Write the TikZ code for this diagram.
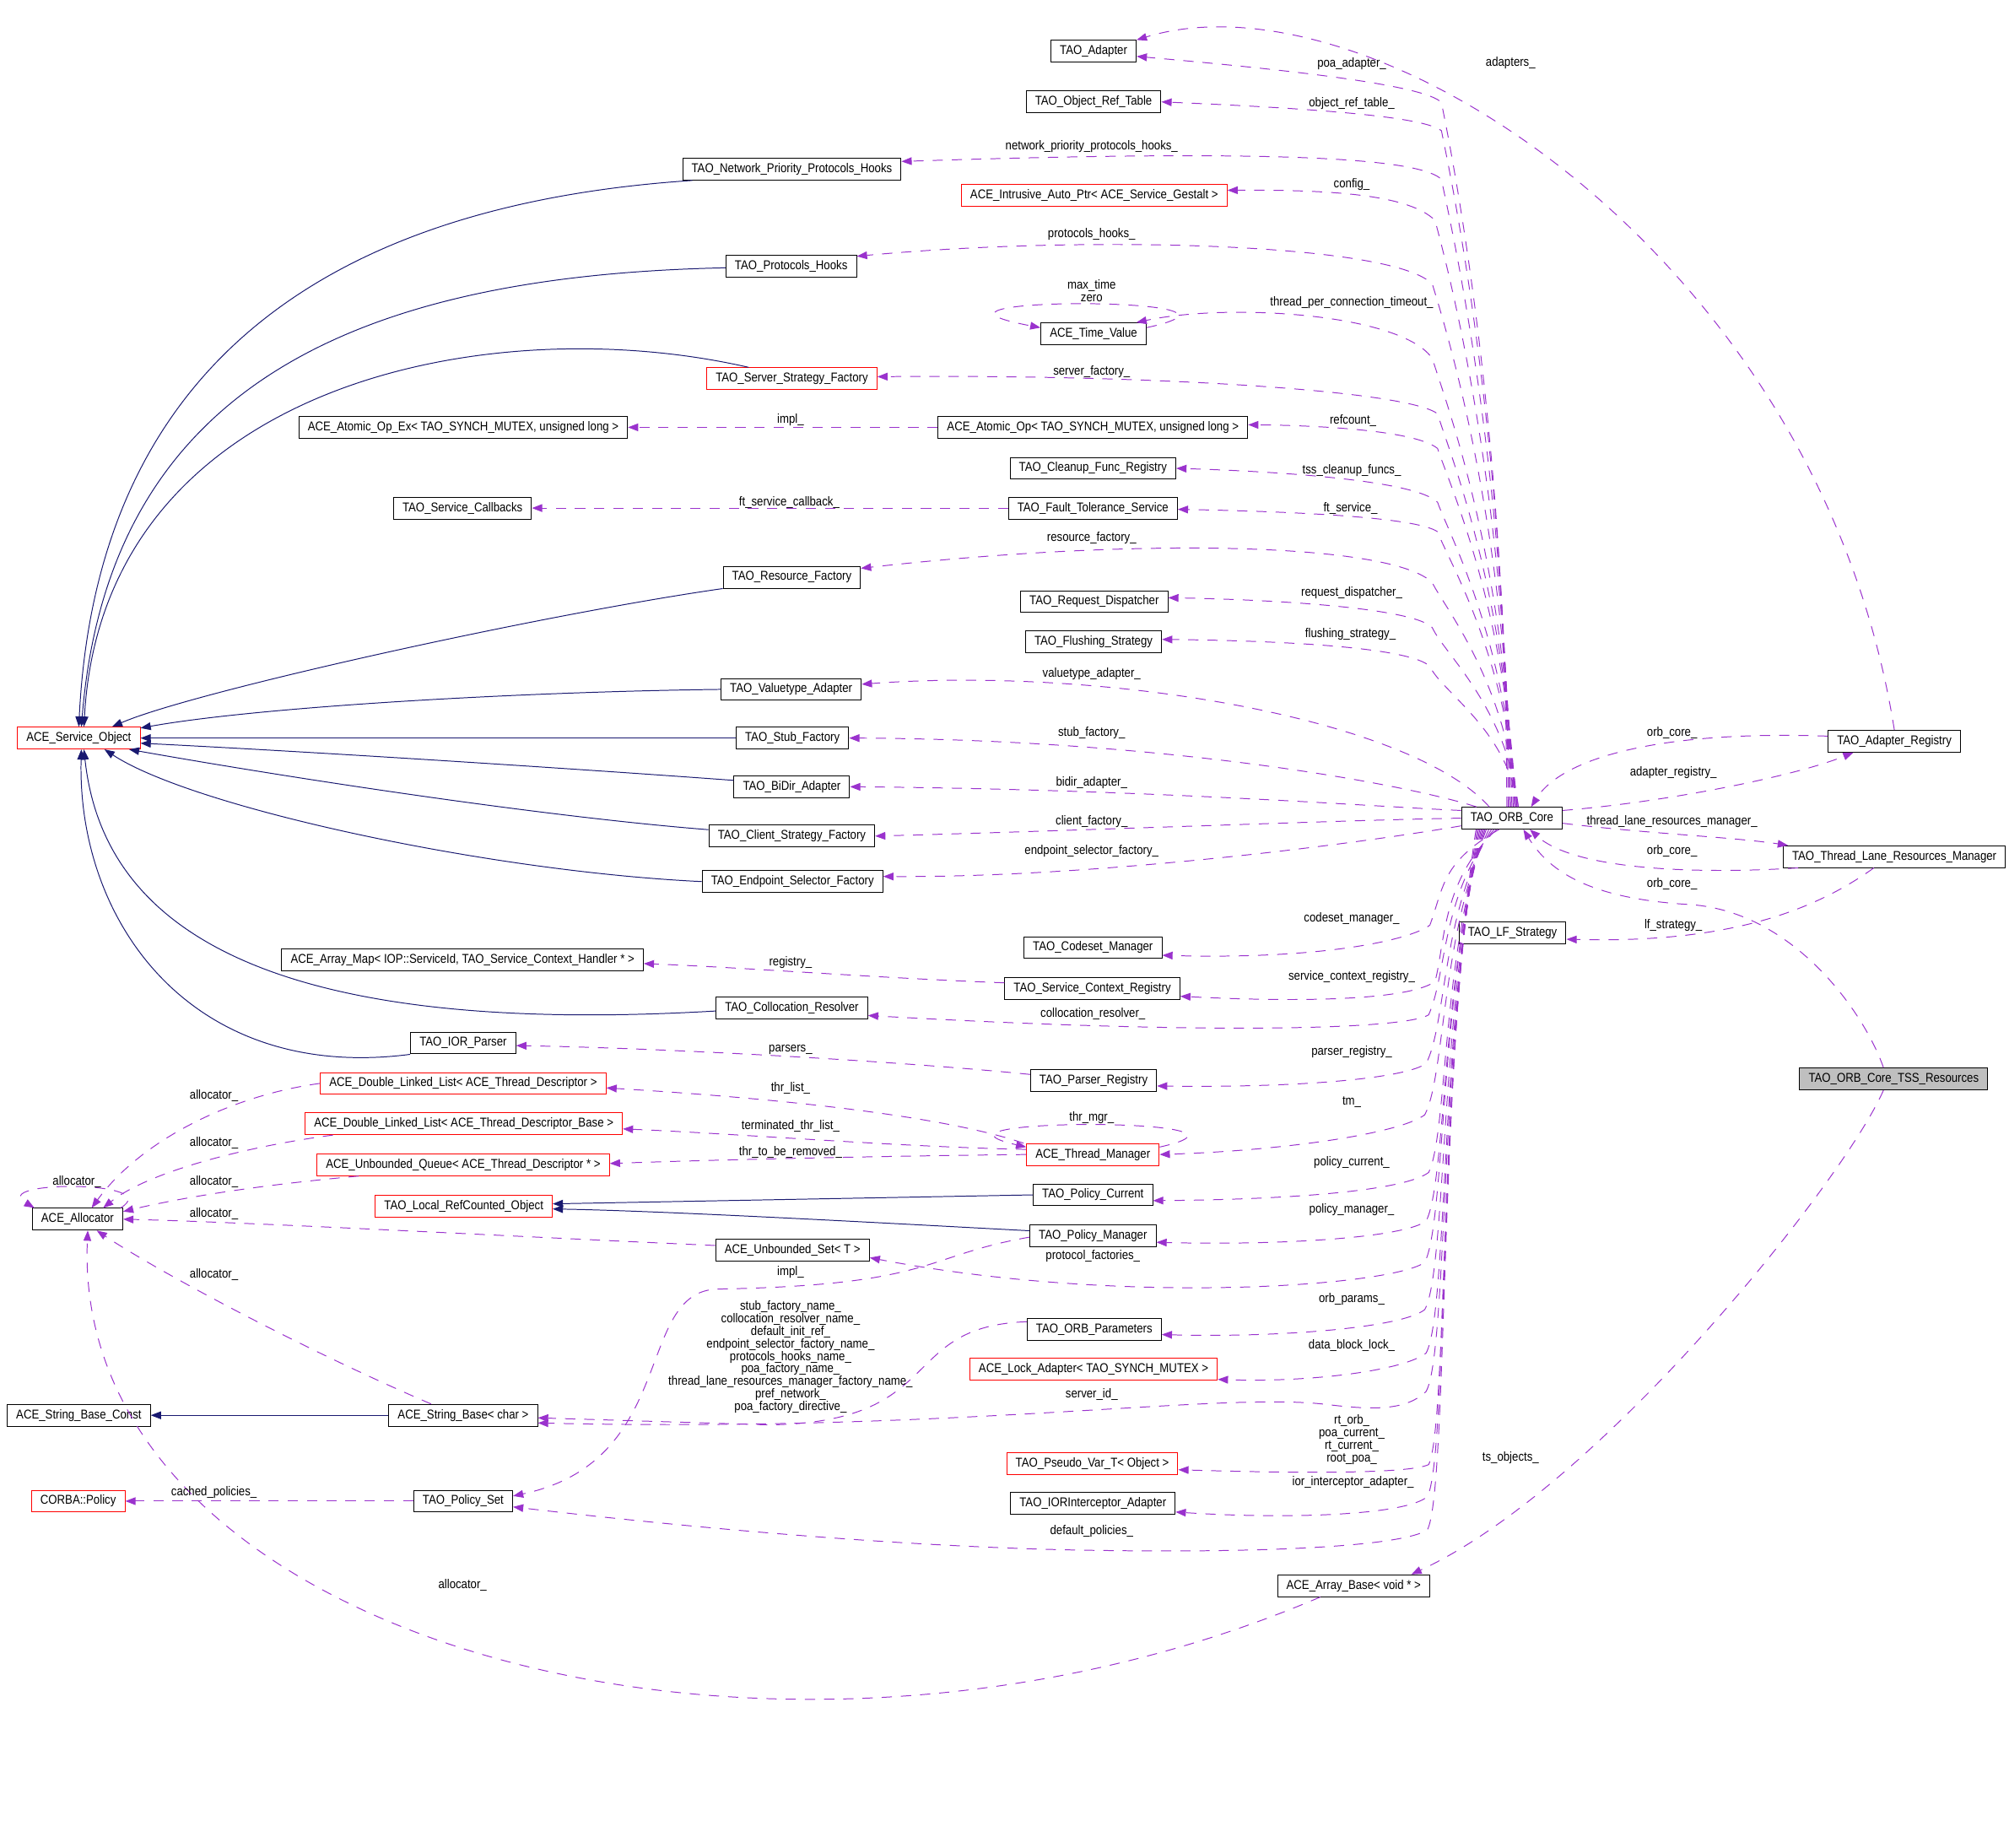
\documentclass[tikz,border=0pt]{standalone}
\usepackage{fontspec}
\setmainfont{Liberation Sans}[FakeStretch=0.87]
\usetikzlibrary{arrows.meta}
\definecolor{edgeblue}{RGB}{25,25,112}
\definecolor{edgepurple}{RGB}{154,50,205}
\definecolor{rootgray}{RGB}{191,191,191}

\begin{document}
\begin{tikzpicture}[x=1pt,y=1pt,
  classbox/.style={draw=black,line width=0.65pt,rectangle,minimum height=17pt,inner xsep=7pt,inner ysep=0pt,font=\fontsize{10}{9.75}\selectfont},
  redbox/.style={classbox,draw=red},
  rootbox/.style={classbox,fill=rootgray},
  inheritline/.style={draw=edgeblue,line width=0.65pt,-{Triangle[length=8pt,width=6pt]}},
  useline/.style={draw=edgepurple,line width=0.65pt,dash pattern=on 8pt off 7pt,-{Triangle[length=8pt,width=6pt]}},
  edgelabel/.style={inner sep=0pt,align=center,font=\fontsize{10}{9.75}\selectfont}]
\useasboundingbox (0,0) rectangle (1568,-1442);
%draw class boxes
\node[classbox] (adapter) at (853.5,-40) {TAO\_Adapter};
\node[classbox] (objreftable) at (853.5,-79.5) {TAO\_Object\_Ref\_Table};
\node[classbox] (netprio) at (618,-132) {TAO\_Network\_Priority\_Protocols\_Hooks};
\node[redbox] (autoptr) at (854,-152.5) {ACE\_Intrusive\_Auto\_Ptr< ACE\_Service\_Gestalt >};
\node[classbox] (protohooks) at (617.5,-208) {TAO\_Protocols\_Hooks};
\node[classbox] (timevalue) at (853.5,-260.5) {ACE\_Time\_Value};
\node[redbox] (serverfactory) at (618,-295.5) {TAO\_Server\_Strategy\_Factory};
\node[classbox] (atomicopex) at (361.5,-333.5) {ACE\_Atomic\_Op\_Ex< TAO\_SYNCH\_MUTEX, unsigned long >};
\node[classbox] (atomicop) at (853,-333.5) {ACE\_Atomic\_Op< TAO\_SYNCH\_MUTEX, unsigned long >};
\node[classbox] (cleanup) at (853,-365.5) {TAO\_Cleanup\_Func\_Registry};
\node[classbox] (callbacks) at (361,-396.5) {TAO\_Service\_Callbacks};
\node[classbox] (ftservice) at (853,-396.5) {TAO\_Fault\_Tolerance\_Service};
\node[classbox] (resfactory) at (618,-450.5) {TAO\_Resource\_Factory};
\node[classbox] (reqdispatch) at (854,-469.5) {TAO\_Request\_Dispatcher};
\node[classbox] (flushing) at (853.5,-501) {TAO\_Flushing\_Strategy};
\node[classbox] (valuetype) at (617.5,-538) {TAO\_Valuetype\_Adapter};
\node[redbox] (svcobject) at (61.5,-576) {ACE\_Service\_Object};
\node[classbox] (stubfactory) at (618.5,-576) {TAO\_Stub\_Factory};
\node[classbox] (bidir) at (618,-614) {TAO\_BiDir\_Adapter};
\node[classbox] (clientfactory) at (618,-652.5) {TAO\_Client\_Strategy\_Factory};
\node[classbox] (endpoint) at (618.5,-688) {TAO\_Endpoint\_Selector\_Factory};
\node[classbox] (orbcore) at (1180,-638.5) {TAO\_ORB\_Core};
\node[classbox] (adapterreg) at (1478.5,-578.5) {TAO\_Adapter\_Registry};
\node[classbox] (threadlane) at (1478.5,-668.5) {TAO\_Thread\_Lane\_Resources\_Manager};
\node[classbox] (lfstrategy) at (1180.5,-728) {TAO\_LF\_Strategy};
\node[rootbox] (tss) at (1478,-842) {TAO\_ORB\_Core\_TSS\_Resources};
\node[classbox] (codeset) at (853,-739.5) {TAO\_Codeset\_Manager};
\node[classbox] (arraymap) at (361,-749) {ACE\_Array\_Map< IOP::ServiceId, TAO\_Service\_Context\_Handler * >};
\node[classbox] (ctxregistry) at (852.5,-771.5) {TAO\_Service\_Context\_Registry};
\node[classbox] (collocation) at (618,-786.5) {TAO\_Collocation\_Resolver};
\node[classbox] (iorparser) at (361.5,-814) {TAO\_IOR\_Parser};
\node[classbox] (parserreg) at (853.5,-843.5) {TAO\_Parser\_Registry};
\node[redbox] (thrlist) at (361.5,-845.5) {ACE\_Double\_Linked\_List< ACE\_Thread\_Descriptor >};
\node[redbox] (thrlistbase) at (362,-877) {ACE\_Double\_Linked\_List< ACE\_Thread\_Descriptor\_Base >};
\node[redbox] (thrmanager) at (853,-901) {ACE\_Thread\_Manager};
\node[redbox] (thrqueue) at (361.5,-909) {ACE\_Unbounded\_Queue< ACE\_Thread\_Descriptor * >};
\node[redbox] (refcounted) at (362,-941.5) {TAO\_Local\_RefCounted\_Object};
\node[classbox] (policycurrent) at (853,-932.5) {TAO\_Policy\_Current};
\node[classbox] (allocator) at (60.5,-951.5) {ACE\_Allocator};
\node[classbox] (policymanager) at (853,-964.5) {TAO\_Policy\_Manager};
\node[classbox] (unboundedset) at (618.5,-975.5) {ACE\_Unbounded\_Set< T >};
\node[classbox] (orbparams) at (854,-1037.5) {TAO\_ORB\_Parameters};
\node[redbox] (lockadapter) at (853.5,-1068.5) {ACE\_Lock\_Adapter< TAO\_SYNCH\_MUTEX >};
\node[classbox] (stringconst) at (61.5,-1104.5) {ACE\_String\_Base\_Const};
\node[classbox] (stringbase) at (361.5,-1104.5) {ACE\_String\_Base< char >};
\node[redbox] (pseudovar) at (852.5,-1142) {TAO\_Pseudo\_Var\_T< Object >};
\node[redbox] (corbapolicy) at (61,-1171.5) {CORBA::Policy};
\node[classbox] (policyset) at (361.5,-1171.5) {TAO\_Policy\_Set};
\node[classbox] (iorinterceptor) at (853,-1173) {TAO\_IORInterceptor\_Adapter};
\node[classbox] (arraybase) at (1056.5,-1237.5) {ACE\_Array\_Base< void * >};
%draw inheritance arrows
\draw[inheritline] ([xshift=8pt]netprio.south west) .. controls (250,-160) and (75,-290) .. (svcobject.north);
\draw[inheritline] ([yshift=-1pt]protohooks.west) .. controls (280,-215) and (85,-300) .. ([xshift=2pt]svcobject.north);
\draw[inheritline] ([xshift=33pt]serverfactory.north west) .. controls (380,-240) and (80,-300) .. ([xshift=4pt]svcobject.north);
\draw[inheritline] (resfactory.south west) .. controls (420,-480) and (150,-540) .. ([xshift=26pt]svcobject.north);
\draw[inheritline] (valuetype.west) .. controls (400,-540) and (200,-552) .. ([yshift=-1pt]svcobject.north east);
\draw[inheritline] (stubfactory.west) -- (svcobject.east);
\draw[inheritline] ([yshift=5pt]bidir.west) .. controls (450,-600) and (250,-587) .. ([yshift=-4pt]svcobject.east);
\draw[inheritline] ([yshift=5pt]clientfactory.west) .. controls (420,-637) and (220,-606) .. ([xshift=-9pt]svcobject.south east);
\draw[inheritline] (endpoint.west) .. controls (380,-680) and (150,-630) .. ([xshift=20pt]svcobject.south);
\draw[inheritline] ([yshift=-2.5pt]collocation.west) .. controls (200,-810) and (80,-720) .. ([xshift=4pt]svcobject.south);
\draw[inheritline] (iorparser.south west) .. controls (150,-845) and (60,-720) .. ([xshift=2pt]svcobject.south);
\draw[inheritline] (policycurrent.west) -- ([yshift=2pt]refcounted.east);
\draw[inheritline] ([yshift=4pt]policymanager.west) .. controls (700,-955) and (520,-945) .. ([yshift=-2pt]refcounted.east);
\draw[inheritline] (stringbase.west) -- (stringconst.east);
%draw members of TAO_ORB_Core, upper bundle
\draw[useline] ([xshift=-4pt]orbcore.north) .. controls (1176,-327) and (1131,-110) .. (1125,-80) .. controls (1112,-66) and (1000,-54) .. ([yshift=-4pt]adapter.east);
\draw[useline] ([xshift=-3pt]orbcore.north) .. controls (1176,-339) and (1131,-132) .. (1125,-102) .. controls (1110,-90) and (1010,-84) .. (objreftable.east);
\draw[useline] ([xshift=-2pt]orbcore.north) .. controls (1176,-360) and (1131,-170) .. (1125,-140) .. controls (1105,-120) and (950,-118) .. ([yshift=6pt]netprio.east);
\draw[useline] ([xshift=-1pt]orbcore.north) .. controls (1176,-378) and (1128,-202) .. (1120,-172) .. controls (1100,-152) and (1040,-148) .. ([yshift=4pt]autoptr.east);
\draw[useline] (orbcore.north) .. controls (1176,-405) and (1127,-252) .. (1118,-222) .. controls (1090,-190) and (850,-183) .. ([yshift=8pt]protohooks.east);
\draw[useline] ([xshift=1pt]orbcore.north) .. controls (1176,-437) and (1127,-310) .. (1118,-280) .. controls (1095,-245) and (960,-236) .. ([xshift=-8pt]timevalue.north east);
\draw[useline] ([xshift=2pt]orbcore.north) .. controls (1176,-461) and (1130,-350) .. (1122,-323) .. controls (1100,-305) and (900,-292) .. ([yshift=1.5pt]serverfactory.east);
\draw[useline] ([xshift=3pt]orbcore.north) .. controls (1176,-475) and (1130,-375) .. (1122,-350) .. controls (1105,-336) and (1030,-332) .. ([yshift=2pt]atomicop.east);
\draw[useline] ([xshift=3pt]orbcore.north) .. controls (1176,-499) and (1130,-415) .. (1122,-392) .. controls (1105,-375) and (1000,-368) .. (cleanup.east);
\draw[useline] ([xshift=4pt]orbcore.north) .. controls (1176,-511) and (1130,-437) .. (1122,-415) .. controls (1105,-403) and (1000,-399) .. ([yshift=-1pt]ftservice.east);
\draw[useline] ([xshift=4pt]orbcore.north) .. controls (1176,-533) and (1128,-475) .. (1118,-455) .. controls (1090,-425) and (900,-418) .. ([yshift=7pt]resfactory.east);
\draw[useline] ([xshift=5pt]orbcore.north) .. controls (1176,-552) and (1127,-510) .. (1118,-490) .. controls (1105,-475) and (1000,-468) .. ([yshift=3pt]reqdispatch.east);
\draw[useline] ([xshift=5pt]orbcore.north) .. controls (1176,-569) and (1125,-540) .. (1116,-520) .. controls (1100,-505) and (1000,-500) .. ([yshift=2pt]flushing.east);
\draw[useline] ([xshift=22pt]orbcore.north west) .. controls (1100,-560) and (860,-520) .. ([yshift=4pt]valuetype.east);
\draw[useline] ([xshift=12pt]orbcore.north west) .. controls (1090,-610) and (900,-577) .. (stubfactory.east);
\draw[useline] ([yshift=6pt]orbcore.west) .. controls (1080,-630) and (900,-616) .. (bidir.east);
\draw[useline] (orbcore.west) .. controls (1050,-640) and (850,-648) .. (clientfactory.east);
\draw[useline] ([yshift=-6pt]orbcore.west) .. controls (1050,-660) and (850,-685) .. ([yshift=4pt]endpoint.east);
%draw right hand side
\draw[useline] (adapterreg.north) .. controls (1420,-200) and (1070,25) .. (adapter.north east);
\draw[useline] ([yshift=4pt]adapterreg.west) .. controls (1300,-570) and (1220,-590) .. ([xshift=15pt]orbcore.north);
\draw[useline] ([yshift=6pt]orbcore.east) .. controls (1300,-626) and (1400,-606) .. ([xshift=-32pt]adapterreg.south);
\draw[useline] ([yshift=-4pt]orbcore.east) .. controls (1290,-651) and (1350,-653) .. ([xshift=4pt]threadlane.north west);
\draw[useline] ([xshift=12pt]threadlane.south west) .. controls (1330,-682) and (1230,-680) .. ([xshift=14pt]orbcore.south);
\draw[useline] ([xshift=-8pt]tss.north) .. controls (1455,-790) and (1400,-712) .. (1320,-706) .. controls (1250,-702) and (1212,-685) .. ([xshift=9pt]orbcore.south);
\draw[useline] ([xshift=-16pt]threadlane.south) .. controls (1410,-715) and (1340,-736) .. ([yshift=-5pt]lfstrategy.east);
\draw[useline] ([xshift=-8pt]tss.south) .. controls (1440,-920) and (1250,-1160) .. ([xshift=45pt]arraybase.north);
%draw members of TAO_ORB_Core, lower bundle
\draw[useline] ([xshift=-10pt]orbcore.south) .. controls (1125,-673) and (1127,-692) .. (1116,-722) .. controls (1100,-734) and (1030,-749) .. ([yshift=-6pt]codeset.east);
\draw[useline] ([xshift=-12pt]orbcore.south) .. controls (1125,-688) and (1128,-736) .. (1120,-766) .. controls (1102,-779) and (1030,-783) .. ([yshift=-6pt]ctxregistry.east);
\draw[useline] ([xshift=-14pt]orbcore.south) .. controls (1125,-698) and (1129,-762) .. (1115,-792) .. controls (1098,-803) and (950,-808) .. ([yshift=-6pt]collocation.east);
\draw[useline] ([xshift=-16pt]orbcore.south) .. controls (1125,-711) and (1129,-800) .. (1113,-830) .. controls (1098,-841) and (1020,-849) .. ([yshift=-4pt]parserreg.east);
\draw[useline] ([xshift=-18pt]orbcore.south) .. controls (1125,-725) and (1128,-840) .. (1112,-870) .. controls (1092,-885) and (1000,-898) .. (thrmanager.east);
\draw[useline] ([xshift=-20pt]orbcore.south) .. controls (1125,-741) and (1130,-885) .. (1115,-915) .. controls (1098,-928) and (1020,-936) .. ([yshift=-4.5pt]policycurrent.east);
\draw[useline] ([xshift=-21pt]orbcore.south) .. controls (1125,-754) and (1129,-923) .. (1113,-953) .. controls (1095,-966) and (1000,-972) .. ([yshift=-5pt]policymanager.east);
\draw[useline] ([xshift=-22pt]orbcore.south) .. controls (1124,-765) and (1128,-955) .. (1112,-985) .. controls (1090,-1003) and (880,-1020) .. ([yshift=-6pt]unboundedset.east);
\draw[useline] ([xshift=-23pt]orbcore.south) .. controls (1124,-778) and (1129,-992) .. (1112,-1022) .. controls (1095,-1036) and (1000,-1044) .. ([yshift=-4pt]orbparams.east);
\draw[useline] ([xshift=-24pt]orbcore.south) .. controls (1124,-790) and (1130,-1026) .. (1113,-1056) .. controls (1095,-1070) and (1020,-1079) .. ([yshift=-8pt]lockadapter.east);
\draw[useline] ([xshift=-25pt]orbcore.south) .. controls (1124,-801) and (1130,-1056) .. (1113,-1086) .. controls (1098,-1100) and (1075,-1101) .. (1035,-1096) .. controls (950,-1086) and (750,-1118) .. ([yshift=-6pt]stringbase.east);
\draw[useline] ([xshift=-26pt]orbcore.south) .. controls (1123,-821) and (1130,-1113) .. (1115,-1143) .. controls (1100,-1150) and (1020,-1150) .. ([yshift=-5pt]pseudovar.east);
\draw[useline] ([xshift=-27pt]orbcore.south) .. controls (1123,-830) and (1130,-1138) .. (1114,-1168) .. controls (1098,-1182) and (1010,-1186) .. ([yshift=-7pt]iorinterceptor.east);
\draw[useline] ([xshift=-28pt]orbcore.south) .. controls (1123,-838) and (1130,-1164) .. (1114,-1194) .. controls (1095,-1206) and (1000,-1212) .. (860,-1210) .. controls (700,-1208) and (520,-1190) .. ([yshift=-4.5pt]policyset.east);
%draw other members
\draw[useline] (atomicop.west) -- (atomicopex.east);
\draw[useline] (ftservice.west) -- (callbacks.east);
\draw[useline] ([yshift=4.5pt]ctxregistry.west) .. controls (680,-763) and (580,-755) .. ([yshift=-3pt]arraymap.east);
\draw[useline] ([yshift=5pt]parserreg.west) .. controls (700,-828) and (520,-818) .. ([yshift=-2pt]iorparser.east);
\draw[useline] ([xshift=-2pt]thrmanager.north west) .. controls (740,-872) and (620,-858) .. ([yshift=-3.5pt]thrlist.east);
\draw[useline] ([yshift=4pt]thrmanager.west) .. controls (700,-895) and (580,-885) .. ([yshift=-4pt]thrlistbase.east);
\draw[useline] (thrmanager.west) .. controls (700,-902) and (560,-905) .. ([yshift=1pt]thrqueue.east);
\draw[useline] (policyset.west) -- (corbapolicy.east);
\draw[useline] ([yshift=-1pt]policymanager.west) .. controls (720,-980) and (730,-1003) .. (560,-1006) .. controls (495,-1008) and (530,-1140) .. ([yshift=4pt]policyset.east);
\draw[useline] ([yshift=6pt]orbparams.west) .. controls (700,-1035) and (740,-1110) .. (600,-1112) -- ([yshift=-2pt]stringbase.east);
% self loops
\draw[useline] ([yshift=-4pt]timevalue.north east) .. controls (1010,-231) and (680,-231) .. ([yshift=-4pt]timevalue.north west);
\draw[useline] ([yshift=-3pt]thrmanager.north east) .. controls (1010,-872) and (700,-872) .. ([yshift=-3pt]thrmanager.north west);
\draw[useline] ([xshift=-2pt]allocator.north east) .. controls (130,-921) and (-10,-921) .. ([xshift=2pt]allocator.north west);
% allocator_ members
\draw[useline] (thrlist.west) .. controls (180,-855) and (110,-890) .. ([xshift=11pt]allocator.north);
\draw[useline] ([xshift=22pt]thrlistbase.south west) .. controls (190,-895) and (115,-915) .. ([xshift=20pt]allocator.north);
\draw[useline] ([xshift=33pt]thrqueue.south west) .. controls (200,-925) and (140,-935) .. ([yshift=6pt]allocator.east);
\draw[useline] ([yshift=3.5pt]unboundedset.west) .. controls (400,-965) and (200,-954) .. (allocator.east);
\draw[useline] ([xshift=-25pt]stringbase.north) .. controls (230,-1050) and (120,-990) .. ([xshift=15pt]allocator.south);
\draw[useline] ([xshift=-26pt]arraybase.south) .. controls (600,-1430) and (55,-1280) .. ([xshift=8pt]allocator.south);
%draw edge labels
\node[edgelabel] (lpoa) at (1055,-50) {poa\_adapter\_};
\node[edgelabel] (ladapters) at (1179,-49) {adapters\_};
\node[edgelabel] (lobjref) at (1055,-81) {object\_ref\_table\_};
\node[edgelabel] (lnetprio) at (852,-114) {network\_priority\_protocols\_hooks\_};
\node[edgelabel] (lconfig) at (1055,-144) {config\_};
\node[edgelabel] (lprotohooks) at (852,-183) {protocols\_hooks\_};
\node[edgelabel] (ltimes) at (852,-227) {max\_time\\zero};
\node[edgelabel] (ltimeout) at (1055,-236) {thread\_per\_connection\_timeout\_};
\node[edgelabel] (lserver) at (852,-290) {server\_factory\_};
\node[edgelabel] (limplatomic) at (617,-328) {impl\_};
\node[edgelabel] (lrefcount) at (1056,-328) {refcount\_};
\node[edgelabel] (lcleanup) at (1055,-367) {tss\_cleanup\_funcs\_};
\node[edgelabel] (lcallback) at (616,-392) {ft\_service\_callback\_};
\node[edgelabel] (lft) at (1054,-397) {ft\_service\_};
\node[edgelabel] (lresource) at (852,-420) {resource\_factory\_};
\node[edgelabel] (lrequest) at (1055,-463) {request\_dispatcher\_};
\node[edgelabel] (lflushing) at (1054,-495) {flushing\_strategy\_};
\node[edgelabel] (lvaluetype) at (852,-526) {valuetype\_adapter\_};
\node[edgelabel] (lstub) at (852,-572) {stub\_factory\_};
\node[edgelabel] (lorbreg) at (1305,-572) {orb\_core\_};
\node[edgelabel] (ladapterreg) at (1306,-603) {adapter\_registry\_};
\node[edgelabel] (lbidir) at (852,-611) {bidir\_adapter\_};
\node[edgelabel] (lclient) at (852,-641) {client\_factory\_};
\node[edgelabel] (lthreadlane) at (1305,-641) {thread\_lane\_resources\_manager\_};
\node[edgelabel] (lendpoint) at (852,-664) {endpoint\_selector\_factory\_};
\node[edgelabel] (lorblane) at (1305,-664) {orb\_core\_};
\node[edgelabel] (lorbtss) at (1305,-690) {orb\_core\_};
\node[edgelabel] (lcodeset) at (1055,-717) {codeset\_manager\_};
\node[edgelabel] (llf) at (1306,-722) {lf\_strategy\_};
\node[edgelabel] (lregistry) at (617,-751) {registry\_};
\node[edgelabel] (lctxreg) at (1055,-762) {service\_context\_registry\_};
\node[edgelabel] (lcolloc) at (853,-791) {collocation\_resolver\_};
\node[edgelabel] (lparsers) at (617,-819) {parsers\_};
\node[edgelabel] (lparserreg) at (1055,-821) {parser\_registry\_};
\node[edgelabel] (lthrlist) at (617,-849) {thr\_list\_};
\node[edgelabel] (lalloca) at (167,-855) {allocator\_};
\node[edgelabel] (ltm) at (1055,-860) {tm\_};
\node[edgelabel] (lthrmgr) at (852,-872) {thr\_mgr\_};
\node[edgelabel] (lterminated) at (617,-879) {terminated\_thr\_list\_};
\node[edgelabel] (lallocb) at (167,-892) {allocator\_};
\node[edgelabel] (lremoved) at (617,-899) {thr\_to\_be\_removed\_};
\node[edgelabel] (lpolcurrent) at (1055,-907) {policy\_current\_};
\node[edgelabel] (lallocself) at (60,-922) {allocator\_};
\node[edgelabel] (lallocc) at (167,-922) {allocator\_};
\node[edgelabel] (lpolmanager) at (1055,-944) {policy\_manager\_};
\node[edgelabel] (lallocd) at (167,-947) {allocator\_};
\node[edgelabel] (lprotofact) at (853,-980) {protocol\_factories\_};
\node[edgelabel] (limplpolicy) at (617,-993) {impl\_};
\node[edgelabel] (lalloce) at (167,-995) {allocator\_};
\node[edgelabel] (lorbparams) at (1055,-1014) {orb\_params\_};
\node[edgelabel] (lnames) at (617,-1059) {stub\_factory\_name\_\\collocation\_resolver\_name\_\\default\_init\_ref\_\\endpoint\_selector\_factory\_name\_\\protocols\_hooks\_name\_\\poa\_factory\_name\_\\thread\_lane\_resources\_manager\_factory\_name\_\\pref\_network\_\\poa\_factory\_directive\_};
\node[edgelabel] (llock) at (1055,-1050) {data\_block\_lock\_};
\node[edgelabel] (lserverid) at (852,-1088) {server\_id\_};
\node[edgelabel] (lpseudo) at (1055,-1123.5) {rt\_orb\_\\poa\_current\_\\rt\_current\_\\root\_poa\_};
\node[edgelabel] (ltsobjects) at (1179,-1138) {ts\_objects\_};
\node[edgelabel] (lior) at (1056,-1157) {ior\_interceptor\_adapter\_};
\node[edgelabel] (lcached) at (167,-1165) {cached\_policies\_};
\node[edgelabel] (ldefault) at (852,-1195) {default\_policies\_};
\node[edgelabel] (lallocf) at (361,-1237) {allocator\_};
\end{tikzpicture}
\end{document}
